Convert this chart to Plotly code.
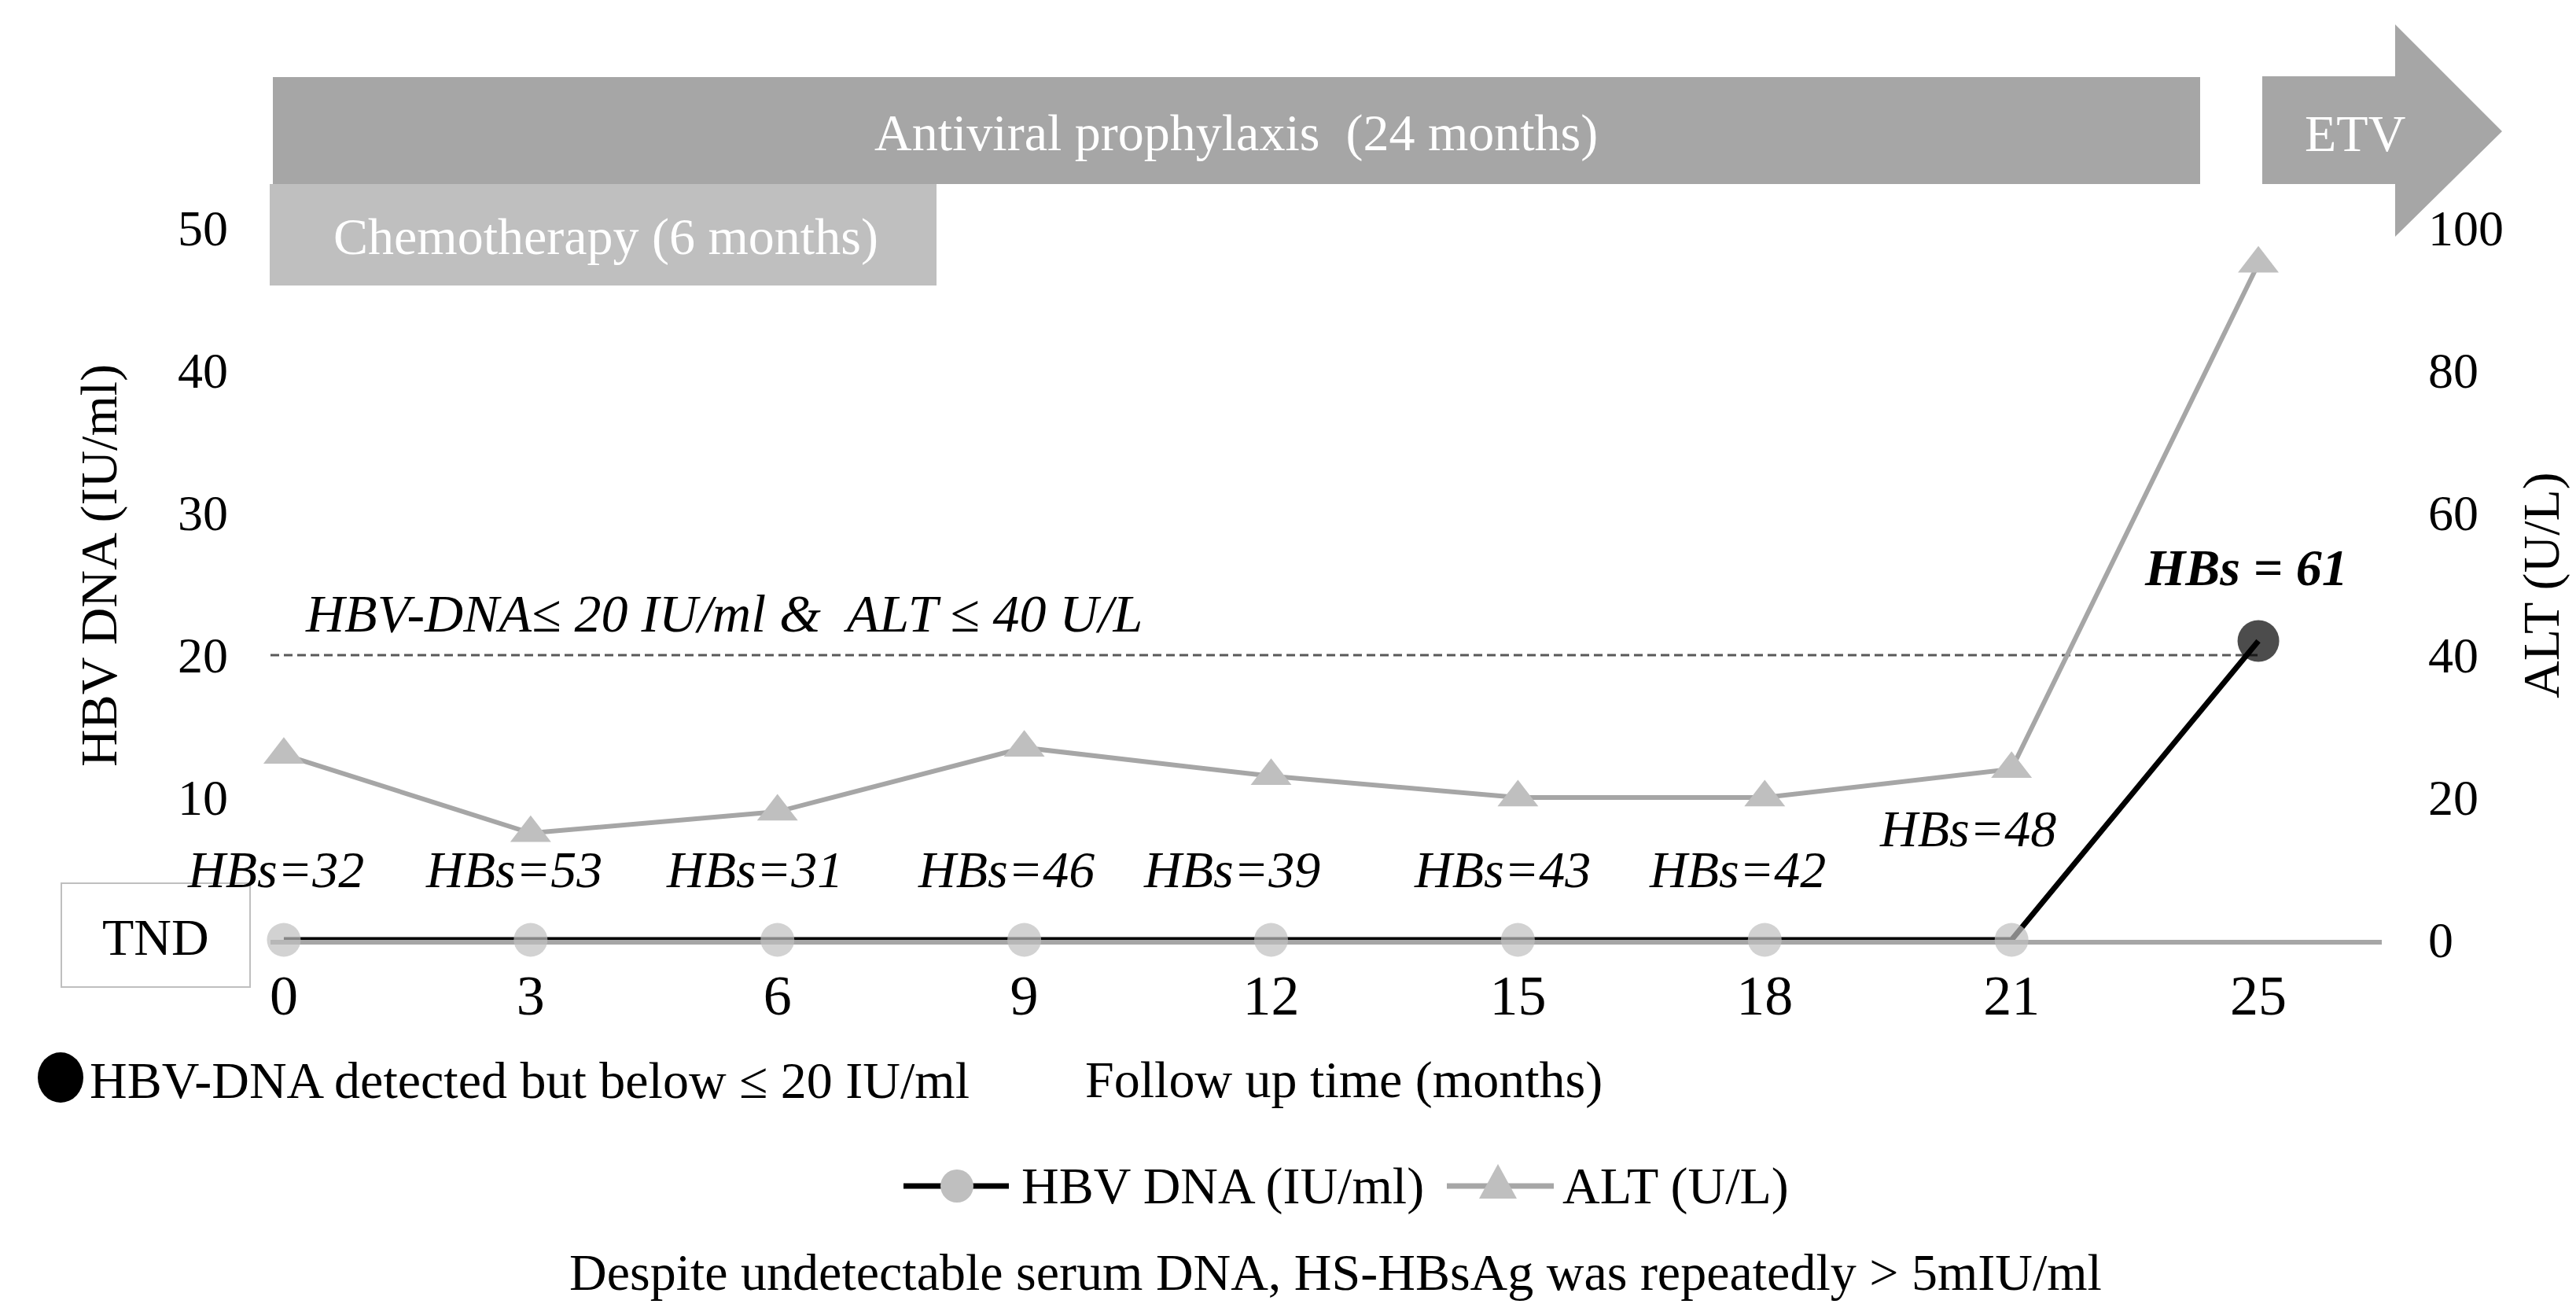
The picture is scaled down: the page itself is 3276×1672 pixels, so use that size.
import plotly.graph_objects as go

# ---------------- data ----------------
months = ["0", "3", "6", "9", "12", "15", "18", "21", "25"]
hbv_dna = [0, 0, 0, 0, 0, 0, 0, 0, 21]
alt = [26, 15, 18, 27, 23, 20, 20, 24, 95]
hbs = [32, 53, 31, 46, 39, 43, 42, 48, 61]
left_ticks = [10, 20, 30, 40, 50]
right_ticks = [0, 20, 40, 60, 80, 100]
threshold_dna = 20

# ---------------- layout geometry (pixels) ----------------
W, H = 3276, 1672
L, R, T, B = 336, 3021, 282, 1187
FONT = "Liberation Serif, Times New Roman, serif"
TXT = 66


def px(X):
    return (X - L) / (R - L)


def py(Y):
    return (B - Y) / (B - T)


fig = go.Figure()

fig.add_trace(go.Scatter(
    x=months, y=alt, name="ALT (U/L)", yaxis="y2", mode="lines+markers",
    line=dict(color="#A6A6A6", width=6),
    marker=dict(symbol="triangle-up", size=45, color="#BFBFBF", line=dict(width=0)),
    cliponaxis=False, showlegend=False,
))

dna_colors = ["#BFBFBF"] * (len(months) - 1) + ["#000000"]
dna_sizes = [43] * (len(months) - 1) + [53]
fig.add_trace(go.Scatter(
    x=months, y=hbv_dna, name="HBV DNA (IU/ml)", mode="lines+markers",
    line=dict(color="#000000", width=7),
    marker=dict(symbol="circle", size=dna_sizes, color=dna_colors, line=dict(width=0)),
    cliponaxis=False, showlegend=False,
))

shapes = []
# top bars
shapes.append(dict(type="rect", xref="paper", yref="paper",
                   x0=px(339), x1=px(2790), y0=py(226), y1=py(90),
                   fillcolor="#A6A6A6", line=dict(width=0), layer="above"))
shapes.append(dict(type="rect", xref="paper", yref="paper",
                   x0=px(335), x1=px(1183), y0=py(355), y1=py(226),
                   fillcolor="#BFBFBF", line=dict(width=0), layer="above"))
arrow = [(2869, 89), (3038, 89), (3038, 23), (3174, 159), (3038, 293), (3038, 226), (2869, 226)]
path = "M" + " L".join(f"{px(a):.5f},{py(b):.5f}" for a, b in arrow) + " Z"
shapes.append(dict(type="path", xref="paper", yref="paper", path=path,
                   fillcolor="#A6A6A6", line=dict(width=0), layer="above"))
# threshold dashed line
shapes.append(dict(type="line", xref="x", yref="y", x0=-0.054, x1=8,
                   y0=threshold_dna, y1=threshold_dna,
                   line=dict(color="#595959", width=3, dash="11px,6px"), layer="below"))
# TND box
shapes.append(dict(type="rect", xref="paper", yref="paper",
                   x0=px(70), x1=px(310), y0=py(1247), y1=py(1115),
                   fillcolor="white", line=dict(color="#BFBFBF", width=2), layer="above"))
# black dot note
shapes.append(dict(type="circle", xref="paper", yref="paper",
                   x0=px(40), x1=px(98), y0=py(1394), y1=py(1330),
                   fillcolor="black", line=dict(width=0)))
# custom legend
LY = 1500
shapes.append(dict(type="line", xref="paper", yref="paper", x0=px(1141), x1=px(1275),
                   y0=py(LY), y1=py(LY), line=dict(color="#000000", width=7)))
shapes.append(dict(type="circle", xref="paper", yref="paper",
                   x0=px(1188), x1=px(1230), y0=py(LY + 21), y1=py(LY - 21),
                   fillcolor="#BFBFBF", line=dict(width=0)))
shapes.append(dict(type="line", xref="paper", yref="paper", x0=px(1832), x1=px(1968),
                   y0=py(LY), y1=py(LY), line=dict(color="#A6A6A6", width=7)))
tri = [(1897 - 24, LY + 16), (1897 + 24, LY + 16), (1897, LY - 28)]
tpath = "M" + " L".join(f"{px(a):.5f},{py(b):.5f}" for a, b in tri) + " Z"
shapes.append(dict(type="path", xref="paper", yref="paper", path=tpath,
                   fillcolor="#BFBFBF", line=dict(width=0)))

ann = []


def note(text, X, Y, size=TXT, color="black", xanchor="center", angle=0):
    ann.append(dict(text=text, xref="paper", yref="paper", x=px(X), y=py(Y),
                    showarrow=False, xanchor=xanchor, yanchor="middle", textangle=angle,
                    font=dict(family=FONT, size=size, color=color)))


note("Antiviral prophylaxis\u00a0 (24 months)", 1564, 161, color="white")
note("Chemotherapy (6 months)", 762, 293, color="white")
note("ETV", 2987, 161, color="white")
note("<i>HBV-DNA\u2264 20 IU/ml &amp;\u00a0 ALT \u2264 40 U/L</i>", 912, 772, size=68)
note("TND", 190, 1183)
note("HBV-DNA detected but below \u2264 20 IU/ml", 104, 1365, xanchor="left")
note("Follow up time (months)", 1701, 1365)
note("HBV DNA (IU/ml)", 1289, LY, xanchor="left")
note("ALT (U/L)", 1977, LY, xanchor="left")
note("Despite undetectable serum DNA, HS-HBsAg was repeatedly &gt; 5mIU/ml", 1690, 1609)
note("HBV DNA (IU/ml)", 118, 711, angle=-90)
note("ALT (U/L)", 3224, 736, angle=-90)

# HBs data labels (x given as category index)
xshift = [-10, -21, -29, -23, -50, -20, -35, -56]
yshift = [90, 90, 90, 90, 90, 90, 90, 142]
for i in range(len(months) - 1):
    ann.append(dict(text=f"<i>HBs={hbs[i]}</i>", xref="x", yref="y", x=i, y=hbv_dna[i],
                    xshift=xshift[i], yshift=yshift[i], showarrow=False,
                    xanchor="center", yanchor="middle",
                    font=dict(family=FONT, size=TXT, color="black")))
last = len(months) - 1
ann.append(dict(text=f"<b><i>HBs = {hbs[last]}</i></b>", xref="x", yref="y", x=last, y=hbv_dna[last],
                xshift=-16, yshift=93, showarrow=False, xanchor="center", yanchor="middle",
                font=dict(family=FONT, size=TXT, color="black")))

fig.update_layout(
    width=W, height=H,
    margin=dict(l=L, r=W - R, t=T, b=H - B, autoexpand=False),
    paper_bgcolor="white", plot_bgcolor="white",
    font=dict(family=FONT, size=TXT, color="black"),
    showlegend=False,
    shapes=shapes, annotations=ann,
    xaxis=dict(type="category", range=[-0.054, 8.5], showline=True, linecolor="#A6A6A6",
               linewidth=6, ticks="", showgrid=False, zeroline=False, layer="below traces",
               tickfont=dict(family=FONT, size=72, color="black"), ticklabelstandoff=3),
    yaxis=dict(range=[0, 50], tickvals=left_ticks, showline=False, showgrid=False,
               zeroline=False, ticks="", tickfont=dict(family=FONT, size=64, color="black"),
               ticklabelstandoff=53),
    yaxis2=dict(range=[0, 100], tickvals=right_ticks, overlaying="y", side="right",
                showline=False, showgrid=False, zeroline=False, ticks="",
                tickfont=dict(family=FONT, size=64, color="black"), ticklabelstandoff=58),
)

fig.write_html("out.html")
